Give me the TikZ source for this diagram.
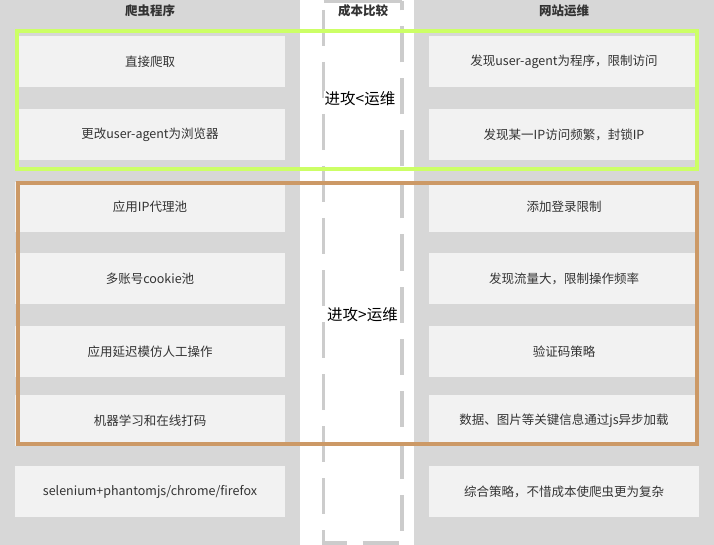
\documentclass[tikz,border=0pt]{standalone}
\usepackage{fontspec}
\setmainfont{Noto Sans CJK SC}
\definecolor{bggray}{HTML}{D7D7D7}
\definecolor{boxfill}{HTML}{F2F2F2}
\definecolor{dashgray}{HTML}{CCCCCC}
\definecolor{limeline}{HTML}{CCFF66}
\definecolor{orangeline}{HTML}{CC9966}
\definecolor{txtgray}{HTML}{333333}
\tikzset{
  itembox/.style={fill=boxfill, text=txtgray, minimum width=270pt, inner sep=0pt, font=\fontsize{12.5pt}{14pt}\selectfont},
  header/.style={text=txtgray, inner sep=0pt, font=\fontsize{12.5pt}{14pt}\selectfont\bfseries},
  midlabel/.style={text=black, fill=white, inner sep=1pt, font=\fontsize{15.5pt}{18pt}\selectfont},
  groupframe/.style={line width=4pt},
}
\begin{document}
\begin{tikzpicture}[x=1pt,y=-1pt]
\useasboundingbox (0,0) rectangle (714,545);
% columns
\fill[bggray] (0,0) rectangle (300,545);
\fill[bggray] (414,0) rectangle (714,545);
% middle dashed lane
\draw[dashgray, line width=3.5pt, dash pattern=on 36pt off 16pt, dash phase=43.5pt]
  (323.5,1.5) -- (323.5,543) -- (402,543) -- (402,1.5);
\draw[dashgray, line width=3.5pt] (323.5,1.5) -- (402,1.5);
% headers
\node[header] (hl) at (150,10.5) {爬虫程序};
\node[header] (hm) at (363,10.5) {成本比较};
\node[header] (hr) at (564,10.5) {网站运维};
% left boxes
\node[itembox, minimum height=51pt] (l1) at (150,61.5) {直接爬取};
\node[itembox, minimum height=51pt] (l2) at (150,134.5) {更改user-agent为浏览器};
\node[itembox, minimum height=50pt] (l3) at (150,207) {应用IP代理池};
\node[itembox, minimum height=51pt] (l4) at (150,278.5) {多账号cookie池};
\node[itembox, minimum height=51pt] (l5) at (150,351.5) {应用延迟模仿人工操作};
\node[itembox, minimum height=51pt] (l6) at (150,420.5) {机器学习和在线打码};
\node[itembox, minimum height=51pt] (l7) at (150,491.5) {selenium+phantomjs/chrome/firefox};
% right boxes
\node[itembox, minimum height=51pt] (r1) at (564,61.5) {发现user-agent为程序，限制访问};
\node[itembox, minimum height=51pt] (r2) at (564,134.5) {发现某一IP访问频繁，封锁IP};
\node[itembox, minimum height=50pt] (r3) at (564,207) {添加登录限制};
\node[itembox, minimum height=51pt] (r4) at (564,278.5) {发现流量大，限制操作频率};
\node[itembox, minimum height=51pt] (r5) at (564,351.5) {验证码策略};
\node[itembox, minimum height=51pt] (r6) at (564,420.5) {数据、图片等关键信息通过js异步加载};
\node[itembox, minimum height=51pt] (r7) at (564,491.5) {综合策略，不惜成本使爬虫更为复杂};
% middle labels
\node[midlabel] (m1) at (360,99) {进攻<运维};
\node[midlabel] (m2) at (362.5,315) {进攻>运维};
% group frames
\draw[groupframe, limeline] (17,31.3) rectangle (697,168.8);
\draw[groupframe, orangeline] (17.5,183) rectangle (696.5,443.7);
\end{tikzpicture}
\end{document}
